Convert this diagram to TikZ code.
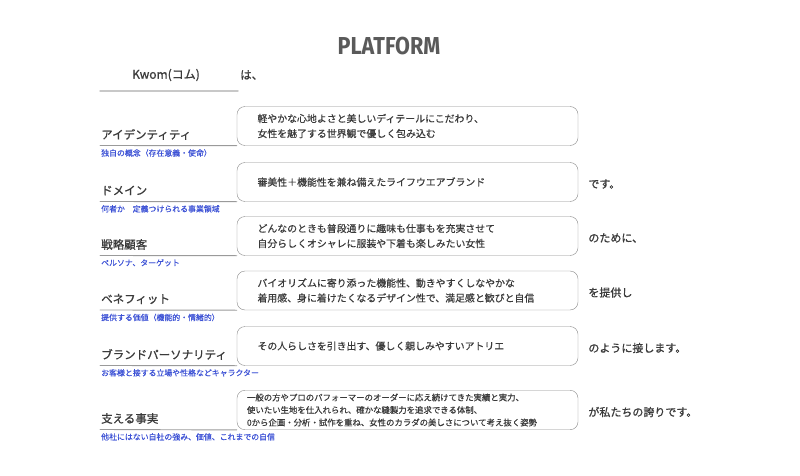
\documentclass[tikz,border=0pt]{standalone}
\usepackage{fontspec}
\setmainfont{Noto Sans CJK JP}
\newfontfamily\jpmed{Noto Sans CJK JP}[FakeBold=0.5]
\newfontfamily\jpheavy{Noto Sans CJK JP}[FakeBold=0.9]
\newfontfamily\titlefont{Fira Sans}
\definecolor{ink}{HTML}{3A3A3A}
\definecolor{titlegray}{HTML}{5A5A5A}
\definecolor{boxgray}{HTML}{8A8A8A}
\definecolor{rulegray}{HTML}{9A9A9A}
\definecolor{brandrule}{HTML}{C8C8C8}
\definecolor{subblue}{HTML}{3D52D5}
\begin{document}
\begin{tikzpicture}[x=1pt,y=-1pt,line join=round,line cap=round]
  \tikzset{every node/.style={text=ink},
    lab/.style={anchor=west,inner sep=0,font=\jpheavy\fontsize{11.5}{13}\selectfont},
    sub/.style={anchor=north west,inner sep=0,text=subblue,font=\jpmed\fontsize{7.9}{9}\selectfont},
    box/.style={draw=boxgray,rounded corners=8pt,minimum width=341pt,minimum height=39pt,
      text width=300pt,inner xsep=20.5pt,align=left,font=\jpmed\fontsize{9.9}{15}\selectfont},
    boxsmall/.style={box,text width=321pt,inner xsep=10pt,font=\jpmed\fontsize{8.4}{12.5}\selectfont},
    suf/.style={anchor=west,inner sep=0,font=\jpheavy\fontsize{11}{13}\selectfont},
    rule/.style={draw=rulegray,line width=0.9pt}}
  \useasboundingbox (0,0) rectangle (800,476);
  \node[text=titlegray,xscale=0.88,transform shape,font=\titlefont\fontsize{24.5}{28}\selectfont\bfseries] (title) at (389,46.5) {PLATFORM};
  \node[lab,anchor=center,font=\jpheavy\fontsize{12}{14}\selectfont] (brand) at (166,75) {Kwom(コム)};
  \node[lab] (wa) at (240,75) {は、};
  \coordinate (brandstart) at (100,91);
  \coordinate (brandend) at (238,91);
  \draw[draw=brandrule,line width=1.5pt] (brandstart) -- (brandend);
  \foreach \n/\y/\st/\lab/\sub/\txt/\suf in {
    1/126/box/{アイデンティティ}/{独自の概念（存在意義・使命）}/{軽やかな心地よさと美しいディテールにこだわり、\\女性を魅了する世界観で優しく包み込む}/{},
    2/182/box/{ドメイン}/{何者か　定義つけられる事業領域}/{審美性＋機能性を兼ね備えたライフウエアブランド}/{です。},
    3/236/box/{戦略顧客}/{ペルソナ、ターゲット}/{どんなのときも普段通りに趣味も仕事もを充実させて\\自分らしくオシャレに服装や下着も楽しみたい女性}/{のために、},
    4/290.5/box/{ベネフィット}/{提供する価値（機能的・情緒的）}/{バイオリズムに寄り添った機能性、動きやすくしなやかな\\着用感、身に着けたくなるデザイン性で、満足感と歓びと自信}/{を提供し},
    5/346/box/{ブランドパーソナリティ}/{お客様と接する立場や性格などキャラクター}/{その人らしさを引き出す、優しく親しみやすいアトリエ}/{のように接します。},
    6/410/boxsmall/{支える事実}/{他社にはない自社の強み、価値、これまでの自信}/{一般の方やプロのパフォーマーのオーダーに応え続けてきた実績と実力、\\使いたい生地を仕入れられ、確かな縫製力を追求できる体制、\\0から企画・分析・試作を重ね、女性のカラダの美しさについて考え抜く姿勢}/{が私たちの誇りです。}}
  {
    \node[\st] (box\n) at (407.5,\y) {\txt};
    \coordinate (line\n) at (100,\y+19.5);
    \draw[rule] (line\n) -- (box\n.south west);
    \node[lab] (lab\n) at (101,\y+8.5) {\lab};
    \node[sub] (sub\n) at (101,\y+23) {\sub};
    \node[suf] (suf\n) at ([xshift=10pt,yshift=-2pt]box\n.east) {\suf};
  }
\end{tikzpicture}
\end{document}
